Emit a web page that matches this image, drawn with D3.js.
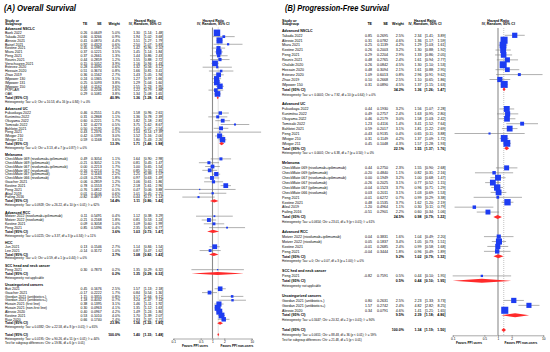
<!DOCTYPE html>
<html><head><meta charset="utf-8">
<script src="https://cdn.jsdelivr.net/npm/d3@7"></script>
<style>
body{margin:0;background:#fff}
svg{display:block}
text{font-family:"Liberation Sans",Arial,Helvetica,sans-serif;fill:#000}
</style>
</head><body>
<svg id="chart" width="550" height="352"></svg>
<script>
// ================= Panel A: Overall Survival =================
const osSubgroups = ["Advanced NSCLC","Advanced UC","Melanoma","Advanced RCC","HCC","SCC head and neck cancer","Uncategorized cancers"];
const osStudy = [
 "Baek 2022","Takada 2022","Alessio 2021","Baisel 2021","Kostine 2021","Miura 2021","Peng 2021","Rounis 2021","Verschuuren 2021","Estevez 2020","Hossain 2020","Zhao 2019","IMpower 130","IMpower 131","IMpower 150","POPLAR","OAK",
 "Fukuokaya 2022","Kunimitsu 2022","Okuyama 2022","Tomisaki 2022","Bahlotei 2021","Peng 2021","IMvigor 210","IMvigor 211",
 "CheckMate 069 (nivolumab+ipilimumab)","CheckMate 069 (ipilimumab)","CheckMate 067 (nivolumab+ipilimumab)","CheckMate 067 (nivolumab)","CheckMate 067 (ipilimumab)","CheckMate 066 (nivolumab)","Gaucher 2021","Kostine 2021","Peng 2021","Afzal 2019","Failing 2016",
 "Motzer 2022 (nivolumab+ipilimumab)","Motzer 2022 (nivolumab)","Kostine 2021","Peng 2021",
 "Jun 2021","Lee 2021",
 "Peng 2021",
 "Buti 2021","Gaucher 2021","Giordan 2021 (antibiotics-)","Giordan 2021 (antibiotics+)","Husain 2021 (first line)","Husain 2021 (non-first line)","Alessio 2020","Kostine 2021","Ruiz 2020"];
const osGroup = [0,0,0,0,0,0,0,0,0,0,0,0,0,0,0,0,0, 1,1,1,1,1,1,1,1, 2,2,2,2,2,2,2,2,2,2,2, 3,3,3,3, 4,4, 5, 6,6,6,6,6,6,6,6,6];
const osTE = [0.26,0.66,0.41,0.92,0.35,0.37,0.37,0.44,0.15,0.28,0.51,0.36,0.24,0.25,0.44,0.20,0.29,
 0.46,0.31,0.60,1.32,0.50,0.43,0.42,0.59,
 0.49,-0.21,0.00,-0.16,0.22,-0.03,0.06,0.78,-0.76,0.01,-0.82,
 0.11,-0.21,0.09,0.85,
 0.13,-0.14,
 0.30,
 0.45,-0.17,1.15,1.18,0.38,0.30,0.40,0.53,0.66];
const osSE = [0.0649,0.3266,0.0870,0.4323,0.1985,0.1221,0.2661,0.2859,0.1052,0.4390,0.3674,0.1562,0.1365,0.1093,0.1162,0.2208,0.1081,
 0.2551,0.2868,0.2221,0.4273,0.2195,1.2376,0.1395,0.1168,
 0.3054,0.3052,0.2213,0.2214,0.1163,0.2196,0.2859,0.1553,1.0812,0.4106,0.4877,
 0.5491,0.2168,0.3058,0.5396,
 0.1546,0.3172,
 0.7873,
 0.1676,0.2222,0.3355,0.4032,0.1395,0.0963,0.0967,0.1010,0.1740];
const osWeight = [5.0,0.9,4.4,0.6,2.0,3.5,1.3,1.2,3.9,0.6,0.8,2.7,3.1,3.8,3.6,1.6,3.8,
 1.4,1.1,1.7,0.5,1.8,0.1,3.0,3.6,
 1.1,1.1,1.7,1.7,2.2,1.8,1.2,2.7,0.1,0.6,0.5,
 0.4,1.8,1.0,0.4,
 2.7,1.0,
 0.2,
 2.5,1.7,0.8,0.7,3.1,4.1,4.2,4.0,2.4];
const osHR = [1.30,1.94,1.51,2.50,1.42,1.45,1.44,1.55,1.16,1.32,1.66,1.43,1.27,1.29,1.55,1.22,1.34,
 1.58,1.36,1.82,3.75,1.65,1.54,1.52,1.80,
 1.64,0.81,1.00,0.85,1.25,0.97,1.06,2.18,0.47,1.01,0.44,
 1.12,0.81,1.09,2.35,
 1.14,0.87,
 1.35,
 1.57,0.84,3.17,3.24,1.46,1.35,1.49,1.70,1.93];
const osLo = [1.14,1.02,1.27,1.07,0.96,1.14,0.86,0.88,0.94,0.56,0.81,1.05,0.97,1.04,1.23,0.79,1.08,
 0.96,0.78,1.18,1.62,1.07,0.14,1.16,1.43,
 0.90,0.45,0.65,0.55,0.99,0.63,0.61,1.61,0.06,0.45,0.17,
 0.38,0.53,0.60,0.82,
 0.84,0.47,
 0.29,
 1.13,0.54,1.64,1.47,1.11,1.12,1.24,1.39,1.37];
const osHi = [1.48,3.68,1.79,5.83,2.10,1.84,2.43,2.72,1.43,3.12,3.41,1.94,1.66,1.60,1.95,1.88,1.65,
 2.61,2.39,2.81,8.67,2.54,17.39,2.00,2.26,
 2.98,1.47,1.54,1.31,1.57,1.49,1.86,2.96,3.88,2.25,1.14,
 3.29,1.24,1.99,6.77,
 1.54,1.62,
 6.32,
 2.18,1.30,6.12,7.14,1.92,1.63,1.80,2.07,2.71];
const osSubWeight = [40.9,13.3,14.4,3.6,3.7,0.2,23.9];
const osSubHR = [1.36,1.71,1.11,1.03,1.08,1.35,1.56];
const osSubLo = [1.28,1.48,0.86,0.73,0.82,0.29,1.32];
const osSubHi = [1.45,1.98,1.42,1.47,1.42,6.32,1.85];
const osSubHet = [
 "Heterogeneity: Tau² = 0; Chi² = 10.53, df = 16 (p = 0.84); I² = 0%",
 "Heterogeneity: Tau² = 0; Chi² = 3.13, df = 7 (p = 0.87); I² = 0%",
 "Heterogeneity: Tau² = 0.0928; Chi² = 26.22, df = 10 (p < 0.01); I² = 62%",
 "Heterogeneity: Tau² = 0.0225; Chi² = 3.37, df = 3 (p = 0.34); I² = 11%",
 "Heterogeneity: Tau² = 0; Chi² = 0.59, df = 1 (p = 0.44); I² = 0%",
 "Heterogeneity: not applicable",
 "Heterogeneity: Tau² = 0.0382; Chi² = 22.58, df = 8 (p < 0.01); I² = 65%"];
const osOverall = [100.0,1.40,1.33,1.48];
const osOverallHet = "Heterogeneity: Tau² = 0.0195; Chi² = 90.26, df = 51 (p < 0.01); I² = 44%";
const osSubTest = "Test for subgroup differences: Chi² = 19.86, df = 6 (p < 0.01)";

// ================= Panel B: Progression-Free Survival =================
const pfsSubgroups = ["Advanced NSCLC","Advanced UC","Melanoma","Advanced RCC","SCC hed and neck cancer","Uncategorized cancers"];
const pfsStudy = [
 "Takada 2022","Alessio 2021","Miura 2021","Kostine 2021","Peng 2021","Rounis 2021","Chalabi 2020","Hossain 2020","Estevez 2020","Zhao 2019","IMpower 150",
 "Fukuokaya 2022","Kunimitsu 2022","Okuyama 2022","Tomisaki 2022","Bahlotei 2021","Peng 2021","IMvigor 210","IMvigor 211",
 "CheckMate 069 (nivolumab+ipilimumab)","CheckMate 069 (ipilimumab)","CheckMate 067 (nivolumab+ipilimumab)","CheckMate 067 (nivolumab)","CheckMate 067 (ipilimumab)","CheckMate 066 (nivolumab)","Peng 2021","Kostine 2021","Afzal 2019","Failing 2016",
 "Motzer 2022 (nivolumab+ipilimumab)","Motzer 2022 (nivolumab)","Kostine 2021","Peng 2021",
 "Peng 2021",
 "Giordan 2021 (antibiotics-)","Giordan 2021 (antibiotics+)","Alessio 2020"];
const pfsGroup = [0,0,0,0,0,0,0,0,0,0,0, 1,1,1,1,1,1,1,1, 2,2,2,2,2,2,2,2,2,2, 3,3,3,3, 4, 5,5,5];
const pfsTE = [0.85,0.31,0.25,0.26,0.29,0.48,0.26,0.48,1.09,0.10,0.31,
 0.44,0.49,0.46,1.23,0.59,-0.43,0.31,0.45,
 0.44,-0.20,0.00,-0.26,-0.04,0.03,-0.01,0.48,-1.20,-0.51,
 0.04,0.05,-0.01,-0.04,
 -0.82,
 0.80,1.57,0.34];
const pfsSE = [0.2695,0.0782,0.1139,0.2003,0.2204,0.2765,0.0842,0.3094,0.6013,0.2668,0.0890,
 0.1930,0.2757,0.2179,0.4116,0.2017,0.9135,0.1149,0.1048,
 0.2750,0.4840,0.1949,0.2025,0.1523,0.2011,0.6272,0.1535,0.4964,0.2901,
 0.3831,0.1837,0.2685,0.3444,
 0.7591,
 0.2631,0.2742,0.0791];
const pfsWeight = [2.5,4.6,4.2,3.2,2.9,2.4,4.5,2.1,0.8,2.5,4.5,
 3.2,2.4,3.0,1.4,3.1,0.4,4.2,4.3,
 2.3,1.1,3.2,3.1,3.7,3.1,0.7,3.7,1.1,2.2,
 1.6,3.4,2.4,1.8,
 0.5,
 2.5,2.4,4.6];
const pfsHR = [2.34,1.36,1.29,1.30,1.33,1.61,1.30,1.61,2.96,1.10,1.37,
 1.56,1.63,1.58,3.41,1.81,0.65,1.37,1.57,
 1.55,0.82,1.00,0.77,0.96,1.03,0.99,1.62,0.30,0.60,
 1.04,1.05,0.99,0.96,
 0.44,
 2.23,4.82,1.41];
const pfsLo = [1.41,1.17,1.03,0.88,0.86,0.94,1.10,0.88,0.91,0.65,1.15,
 1.07,0.95,1.03,1.52,1.22,0.11,1.09,1.28,
 0.90,0.31,0.68,0.52,0.71,0.69,0.29,1.20,0.11,0.34,
 0.49,0.73,0.58,0.49,
 0.10,
 1.33,2.82,1.21];
const pfsHi = [3.89,1.59,1.61,1.92,2.05,2.77,1.53,2.95,9.62,1.86,1.63,
 2.28,2.80,2.42,7.64,2.69,3.88,1.72,1.93,
 2.68,2.16,1.47,1.15,1.29,1.53,3.38,2.19,0.79,1.06,
 2.20,1.51,1.68,1.89,
 1.95,
 3.73,8.25,1.65];
const pfsSubWeight = [34.2,22.1,24.5,9.2,0.5,9.5];
const pfsSubHR = [1.36,1.55,0.98,1.02,0.44,2.39];
const pfsSubLo = [1.26,1.37,0.79,0.79,0.10,1.18];
const pfsSubHi = [1.47,1.76,1.22,1.32,1.95,4.86];
const pfsSubHet = [
 "Heterogeneity: Tau² = < 0.0001; Chi² = 7.92, df = 10 (p = 0.64); I² = 0%",
 "Heterogeneity: Tau² = < 0.0001; Chi² = 6.38, df = 7 (p = 0.50); I² = 0%",
 "Heterogeneity: Tau² = 0.0654; Chi² = 23.01, df = 9 (p < 0.01); I² = 61%",
 "Heterogeneity: Tau² = 0; Chi² = 0.07, df = 3 (p = 1.00); I² = 0%",
 "Heterogeneity: not applicable",
 "Heterogeneity: Tau² = 0.3447; Chi² = 20.32, df = 2 (p < 0.01); I² = 90%"];
const pfsOverall = [100.0,1.34,1.19,1.50];
const pfsOverallHet = "Heterogeneity: Tau² = 0.0651; Chi² = 88.48, df = 36 (p < 0.01); I² = 59%";
const pfsSubTest = "Test for subgroup differences: Chi² = 21.48, df = 5 (p < 0.01)";

const axisTicks = [0.1,0.5,1,2,10];
const favorLabels = ["Favors PPI users","Favors PPI non-users"];

// ================= drawing =================
const svg = d3.select("#chart");
svg.append("rect").attr("width",550).attr("height",352).attr("fill","#fff");

function drawPanel(P, L){
  const g = svg.append("g");
  const x = d3.scaleLog().domain([0.1,10]).range(L.plot);
  const rows = [];
  P.subgroups.forEach((name,gi)=>{
    rows.push({type:"header",label:name});
    P.study.forEach((s,i)=>{ if(P.group[i]===gi) rows.push({type:"study",label:s,te:P.te[i],se:P.se[i],w:P.weight[i],hr:P.hr[i],lo:P.lo[i],hi:P.hi[i]}); });
    rows.push({type:"total",label:"Total (95% CI)",w:P.subW[gi],hr:P.subHR[gi],lo:P.subLo[gi],hi:P.subHi[gi]});
    rows.push({type:"het",label:P.subHet[gi]});
    rows.push({type:"blank"});
  });
  rows.push({type:"total",label:"Total (95% CI)",w:P.overall[0],hr:P.overall[1],lo:P.overall[2],hi:P.overall[3],overall:true});
  rows.push({type:"het",label:P.overallHet});
  rows.push({type:"het",label:P.subTest});
  const yc = i => L.y0 + i*L.pitch;
  const fs = L.fs, bl = fs*0.36;

  g.append("text").attr("x",L.titleX).attr("y",L.titleY).attr("font-size",L.titleFs)
    .attr("font-weight","bold").attr("font-style","italic").attr("textLength",L.titleW).attr("lengthAdjust","spacingAndGlyphs").text(P.title);

  const h1 = L.headY1, h2 = L.headY2;
  const hd = (t,xx,yy,anchor)=>g.append("text").attr("x",xx).attr("y",yy).attr("font-size",fs).attr("font-weight","bold").attr("text-anchor",anchor||"start").text(t);
  hd("Study or",L.nameX,h1); hd("Subgroup",L.nameX,h2);
  hd("TE",L.teX,h2,"end"); hd("SE",L.seX,h2,"end"); hd("Weight",L.wX,h2,"end");
  hd("Hazard Ratio",L.ciHeadX,h1,"middle"); hd("IV, Random, 95% CI",L.ciHeadX,h2,"middle");
  hd("Hazard Ratio",L.plotHeadX,h1,"middle"); hd("IV, Random, 95% CI",L.plotHeadX,h2,"middle");

  const yTop = L.lineTop, yBot = L.axisY;
  g.append("line").attr("x1",x(1)).attr("x2",x(1)).attr("y1",yTop).attr("y2",yBot).attr("stroke","#8c8c8c").attr("stroke-width",1.1);
  g.append("line").attr("x1",x(P.overall[1])).attr("x2",x(P.overall[1])).attr("y1",yTop).attr("y2",yBot)
    .attr("stroke","#9a9a9a").attr("stroke-width",0.6).attr("stroke-dasharray","1,1");

  rows.forEach((r,i)=>{
    const y = yc(i);
    if(r.type==="blank") return;
    if(r.type==="header"){
      g.append("text").attr("x",L.nameX).attr("y",y+bl).attr("font-size",fs).attr("font-weight","bold").text(r.label);
      return;
    }
    if(r.type==="het"){
      g.append("text").attr("x",L.nameX).attr("y",y+bl).attr("font-size",L.hetFs).text(r.label);
      return;
    }
    const bold = r.type==="total" ? "bold" : "normal";
    const t = (s,xx,anchor)=>g.append("text").attr("x",xx).attr("y",y+bl).attr("font-size",fs).attr("font-weight",bold).attr("text-anchor",anchor||"end").text(s);
    t(r.label,L.nameX,"start");
    if(r.type==="study"){ t(r.te.toFixed(2),L.teX); t(r.se.toFixed(4),L.seX); }
    t(r.w.toFixed(1)+"%",L.wX);
    t(r.hr.toFixed(2),L.hrX); t("["+r.lo.toFixed(2)+";",L.loX); t(r.hi.toFixed(2)+"]",L.hiX);
    if(r.type==="study"){
      g.append("line").attr("x1",x(r.lo)).attr("x2",x(r.hi)).attr("y1",y).attr("y2",y).attr("stroke","#7a7a7a").attr("stroke-width",0.6);
      const s = Math.max(1.3, L.sq*Math.sqrt(r.w));
      g.append("rect").attr("x",x(r.hr)-s/2).attr("y",y-s/2).attr("width",s).attr("height",s).attr("fill","#1d3cf2");
    } else {
      const hh = L.dia/2;
      g.append("path").attr("d",`M${x(r.lo)},${y}L${x(r.hr)},${y-hh}L${x(r.hi)},${y}L${x(r.hr)},${y+hh}Z`).attr("fill","#ff2a2a");
    }
  });

  const ax = d3.axisBottom(x).tickValues(axisTicks).tickFormat(d=>String(d)).tickSize(1.5).tickPadding(0.8);
  const ag = g.append("g").attr("transform",`translate(0,${L.axisY})`).call(ax);
  ag.select(".domain").attr("stroke","#555").attr("stroke-width",0.5);
  ag.selectAll(".tick line").attr("stroke","#555").attr("stroke-width",0.5);
  ag.selectAll(".tick text").attr("font-size",L.tickFs).attr("font-family","Liberation Sans, Arial, sans-serif").attr("fill","#000");
  g.append("text").attr("x",L.fav[0]).attr("y",L.favY).attr("font-size",L.tickFs).attr("font-weight","bold").attr("text-anchor","middle").text(favorLabels[0]);
  g.append("text").attr("x",L.fav[1]).attr("y",L.favY).attr("font-size",L.tickFs).attr("font-weight","bold").attr("text-anchor","middle").text(favorLabels[1]);
}

drawPanel({title:"(A) Overall Survival",subgroups:osSubgroups,study:osStudy,group:osGroup,te:osTE,se:osSE,weight:osWeight,hr:osHR,lo:osLo,hi:osHi,
  subW:osSubWeight,subHR:osSubHR,subLo:osSubLo,subHi:osSubHi,subHet:osSubHet,overall:osOverall,overallHet:osOverallHet,subTest:osSubTest},
  {titleX:4,titleY:11,titleFs:8.5,titleW:72,nameX:5,teX:87.3,seX:101.7,wX:120,hrX:140,loX:152.5,hiX:163.3,ciHeadX:145,plotHeadX:213.3,
   headY1:21.8,headY2:25.3,y0:29,pitch:3.82,fs:3.5,hetFs:3.0,plot:[173.3,251.7],lineTop:27.5,axisY:338.5,tickFs:3.2,fav:[195,237],favY:347,sq:2.9,dia:3.2});

drawPanel({title:"(B) Progression-Free Survival",subgroups:pfsSubgroups,study:pfsStudy,group:pfsGroup,te:pfsTE,se:pfsSE,weight:pfsWeight,hr:pfsHR,lo:pfsLo,hi:pfsHi,
  subW:pfsSubWeight,subHR:pfsSubHR,subLo:pfsSubLo,subHi:pfsSubHi,subHet:pfsSubHet,overall:pfsOverall,overallHet:pfsOverallHet,subTest:pfsSubTest},
  {titleX:285,titleY:11,titleFs:8.5,titleW:104,nameX:282,teX:372,seX:388,wX:404,hrX:421.5,loX:434,hiX:445.5,ciHeadX:425,plotHeadX:498.3,
   headY1:21.8,headY2:25.3,y0:30.4,pitch:4.91,fs:3.6,hetFs:3.0,plot:[452.7,543.3],lineTop:28,axisY:335.3,tickFs:3.2,fav:[469,521],favY:344,sq:3.3,dia:4});
</script>
</body></html>
